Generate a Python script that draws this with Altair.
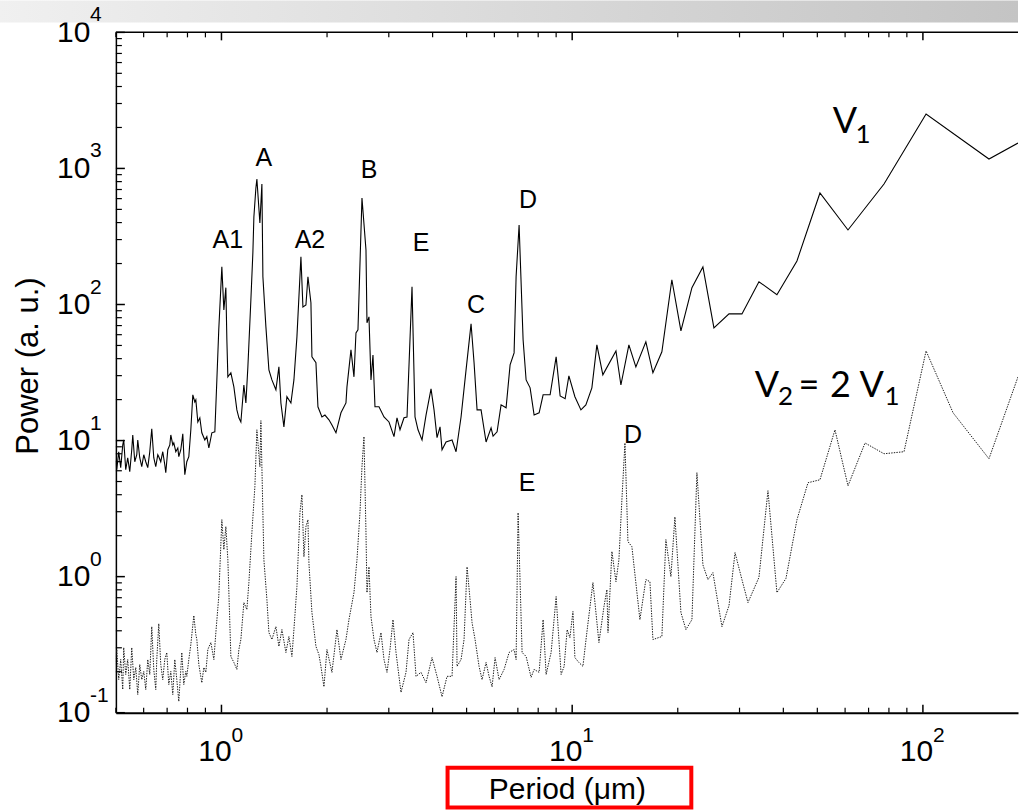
import altair as alt
import pandas as pd

# ---------------- data ----------------
v1_period = [
    0.4963, 0.5029, 0.5094, 0.5161, 0.5230, 0.5264, 0.5334, 0.5404, 0.5477, 0.5549,
    0.5586, 0.5660, 0.5735, 0.5772, 0.5848, 0.5926, 0.6004, 0.6084, 0.6164, 0.6246,
    0.6328, 0.6412, 0.6497, 0.6583, 0.6626, 0.6713, 0.6802, 0.6892, 0.6938, 0.7030,
    0.7124, 0.7171, 0.7265, 0.7313, 0.7410, 0.7508, 0.7557, 0.7657, 0.7758, 0.7861,
    0.7965, 0.8071, 0.8178, 0.8286, 0.8395, 0.8451, 0.8563, 0.8676, 0.8790, 0.8966,
    0.9084, 0.9205, 0.9388, 0.9575, 0.9702, 0.9824, 1.0025, 1.0158, 1.0293, 1.0361,
    1.0429, 1.0637, 1.0849, 1.1065, 1.1211, 1.1359, 1.1585, 1.1739, 1.1894, 1.2130,
    1.2290, 1.2372, 1.2536, 1.2618, 1.2870, 1.3040, 1.3126, 1.3388, 1.3654, 1.3926,
    1.4297, 1.4581, 1.4774, 1.5068, 1.5368, 1.5777, 1.6091, 1.6412, 1.6849, 1.7071,
    1.7412, 1.7642, 1.7992, 1.8111, 1.8594, 1.8839, 1.9341, 1.9726, 2.0252, 2.0655,
    2.1206, 2.1912, 2.2645, 2.2795, 2.3401, 2.3867, 2.4184, 2.4503, 2.5155, 2.5826,
    2.5996, 2.6339, 2.6687, 2.7040, 2.7398, 2.8128, 2.9068, 3.0038, 3.1041, 3.1660,
    3.2290, 3.3150, 3.3810, 3.4939, 3.5634, 3.6343, 3.7311, 3.8306, 3.9584, 4.0373,
    4.1178, 4.1996, 4.2551, 4.3686, 4.5441, 4.6653, 4.8208, 4.9821, 5.1482, 5.2508,
    5.3555, 5.4978, 5.6818, 5.8712, 5.9488, 6.1076, 6.2699, 6.4797, 6.6521, 6.8292,
    6.9198, 7.0573, 7.2450, 7.3897, 7.5862, 7.7882, 8.0484, 8.2625, 8.6517, 8.9998,
    9.2392, 9.5476, 9.786, 10.18, 10.59, 10.94, 11.38, 11.76, 12.23, 13.33,
    13.77, 14.51, 15.19, 16.22, 16.99, 18.02, 19.24, 20.42, 21.95, 23.59,
    25.36, 28.00, 30.48, 34.08, 38.35, 43.74, 50.87, 61.15, 77.46, 102.1,
    154.3, 186.7,
]
v1_power = [
    7.23, 6.10, 8.28, 6.32, 9.28, 10.1, 6.10, 7.48, 5.90, 8.56,
    11.0, 6.99, 7.87, 10.1, 7.48, 6.42, 7.87, 6.99, 6.32, 8.28,
    12.2, 7.48, 6.42, 7.87, 7.61, 6.99, 8.28, 6.64, 5.80, 8.56,
    9.28, 11.0, 9.28, 9.60, 8.28, 8.82, 7.61, 8.56, 11.2, 5.61,
    6.99, 7.61, 12.0, 21.7, 19.2, 19.9, 13.7, 14.7, 11.4, 10.1,
    10.7, 8.82, 11.4, 11.6, 27.9, 65.1, 189, 91.3, 133, 55.0,
    29.4, 31.5, 24.8, 16.8, 14.7, 13.7, 25.6, 18.9, 34.8, 108,
    240, 440, 718, 837, 397, 768, 160, 68.5, 33.1, 27.9,
    23.6, 34.8, 18.9, 12.6, 21.0, 18.9, 27.9, 57.8, 224, 96.0,
    99.3, 160, 103, 41.2, 37.3, 17.7, 14.9, 15.4, 14.2, 13.0,
    11.4, 16.0, 18.9, 24.8, 46.4, 29.4, 61.9, 65.1, 606, 252,
    73.3, 81.1, 27.9, 42.6, 17.7, 17.7, 14.9, 13.7, 10.7, 14.7,
    12.0, 14.7, 14.9, 135, 14.9, 12.0, 10.1, 15.4, 24.0, 16.8,
    10.5, 12.6, 8.56, 9.76, 10.1, 8.28, 14.9, 33.1, 72.1, 37.3,
    16.8, 16.8, 9.76, 12.4, 10.8, 11.6, 18.3, 17.4, 36.0, 44.1,
    160, 384, 55.0, 27.9, 24.4, 15.4, 16.0, 21.7, 21.7, 41.2,
    21.3, 20.3, 29.9, 21.0, 16.8, 18.3, 24.4, 50.5, 30.4, 45.6,
    25.6, 50.5, 34.8, 53.2, 31.5, 44.9, 152, 64.0, 133, 189,
    67.4, 85.3, 85.3, 147, 118, 209, 660, 353, 768, 2509,
    1173, 1537,
]

v2_period = [
    0.4963, 0.5029, 0.5094, 0.5161, 0.5230, 0.5264, 0.5334, 0.5404, 0.5477, 0.5549,
    0.5623, 0.5697, 0.5772, 0.5848, 0.5926, 0.6004, 0.6084, 0.6164, 0.6246, 0.6328,
    0.6412, 0.6497, 0.6540, 0.6626, 0.6713, 0.6802, 0.6892, 0.6984, 0.7077, 0.7171,
    0.7265, 0.7361, 0.7459, 0.7557, 0.7657, 0.7707, 0.7809, 0.7913, 0.7965, 0.8071,
    0.8178, 0.8340, 0.8451, 0.8507, 0.8619, 0.8790, 0.8907, 0.9025, 0.9144, 0.9327,
    0.9513, 0.9639, 0.9824, 1.0025, 1.0158, 1.0293, 1.0429, 1.0637, 1.0849, 1.1065,
    1.1211, 1.1359, 1.1585, 1.1816, 1.1972, 1.2210, 1.2453, 1.2618, 1.2870, 1.2955,
    1.3213, 1.3476, 1.3654, 1.3926, 1.4297, 1.4581, 1.4871, 1.5268, 1.5571, 1.5881,
    1.6091, 1.6412, 1.6739, 1.6960, 1.7184, 1.7412, 1.7642, 1.7758, 1.8111, 1.8594,
    1.8964, 1.9214, 1.9597, 1.9988, 2.0655, 2.1346, 2.1912, 2.2645, 2.3096, 2.3867,
    2.4343, 2.4827, 2.5155, 2.5488, 2.5826, 2.5996, 2.6339, 2.6687, 2.7218, 2.7761,
    2.8499, 2.9068, 2.9647, 3.0236, 3.0837, 3.1453, 3.2501, 3.3589, 3.4257, 3.5168,
    3.5871, 3.7066, 3.8306, 3.9845, 4.1178, 4.2551, 4.3974, 4.5441, 4.6653, 4.6960,
    4.8208, 4.9169, 5.0149, 5.1146, 5.1822, 5.2854, 5.4262, 5.5342, 5.6818, 5.7947,
    5.9100, 6.0277, 6.1882, 6.3949, 6.6085, 6.8292, 6.9198, 7.0110, 7.1977, 7.3897,
    7.6360, 7.7882, 8.0484, 8.2625, 8.4275, 8.7085, 8.9998, 9.2998, 9.4852, 9.6742,
    9.851, 10.05, 10.18, 10.45, 10.73, 11.01, 11.46, 11.92, 12.32, 12.56,
    12.65, 12.98, 13.33, 13.59, 13.86, 14.14, 14.42, 14.80, 15.60, 16.22,
    16.66, 16.99, 18.02, 18.50, 19.12, 19.63, 20.42, 21.10, 21.95, 22.68,
    23.59, 24.38, 25.19, 26.73, 28.00, 29.13, 30.48, 31.71, 34.08, 36.16,
    38.35, 40.70, 43.74, 47.03, 50.87, 56.14, 61.15, 68.39, 77.46, 88.33,
    102.1, 121.9, 154.3, 186.7,
]
v2_power = [
    0.226, 0.291, 0.175, 0.246, 0.148, 0.301, 0.191, 0.246, 0.148, 0.301,
    0.175, 0.215, 0.136, 0.226, 0.175, 0.201, 0.148, 0.246, 0.191, 0.429,
    0.208, 0.148, 0.246, 0.451, 0.226, 0.175, 0.246, 0.277, 0.161, 0.201,
    0.136, 0.246, 0.175, 0.121, 0.208, 0.277, 0.161, 0.201, 0.185, 0.246,
    0.317, 0.518, 0.375, 0.345, 0.226, 0.166, 0.215, 0.198, 0.291, 0.328,
    0.246, 0.388, 0.713, 2.62, 1.58, 2.33, 1.33, 0.259, 0.234, 0.208,
    0.291, 0.345, 0.645, 0.573, 0.904, 2.10, 4.58, 12.0, 6.42, 14.0,
    1.33, 0.678, 0.388, 0.345, 0.429, 0.307, 0.408, 0.277, 0.363, 0.259,
    0.408, 0.845, 2.95, 4.00, 1.40, 2.33, 2.62, 1.26, 0.545, 0.307,
    0.267, 0.219, 0.155, 0.291, 0.198, 0.408, 0.246, 0.345, 0.483, 0.763,
    1.33, 2.95, 6.42, 10.7, 2.10, 0.763, 1.18, 0.509, 0.345, 0.277,
    0.388, 0.246, 0.198, 0.291, 0.483, 0.277, 0.141, 0.198, 0.345, 0.388,
    0.185, 0.198, 0.166, 0.254, 0.185, 0.131, 0.185, 0.185, 1.00, 0.219,
    0.246, 0.345, 1.18, 0.678, 0.459, 0.345, 0.219, 0.175, 0.234, 0.185,
    0.155, 0.254, 0.175, 0.208, 0.277, 0.291, 0.246, 2.95, 0.277, 0.259,
    0.182, 0.208, 0.198, 0.483, 0.191, 0.277, 0.713, 0.191, 0.219, 0.408,
    0.356, 0.554, 0.254, 0.234, 0.219, 0.388, 0.904, 0.328, 0.602, 0.803,
    0.388, 1.53, 0.919, 1.33, 3.68, 9.60, 1.81, 1.66, 0.483, 0.951,
    0.919, 0.345, 0.363, 1.87, 1.00, 2.75, 0.545, 0.408, 0.483, 5.80,
    1.22, 0.951, 1.07, 0.429, 0.613, 1.50, 0.951, 0.645, 0.987, 4.28,
    0.763, 0.971, 2.62, 4.90, 5.15, 12.0, 4.65, 9.60, 8.00, 8.28,
    45.6, 16.0, 7.35, 29.4,
]

# peak labels
peak_labels = ["A1", "A", "A2", "B", "E", "C", "D", "D", "E"]
peak_period = [1.043, 1.321, 1.788, 2.634, 3.707, 5.320, 7.487, 14.90, 7.438]
peak_power = [298, 1193, 298, 974, 283, 99.3, 586, 11.0, 4.90]

# series labels  (V1 ; V2 = 2 V1), main glyphs and subscripts
ser_main_text = ["V", "V", "=", "2", "V"]
ser_main_period = [59.96, 35.92, 47.33, 58.21, 71.38]
ser_main_power = [2192, 25.2, 25.2, 25.2, 25.2]
ser_sub_text = ["1", "2", "1"]
ser_sub_period = [67.50, 40.56, 81.62]
ser_sub_power = [1759, 20.8, 20.8]

# axis ticks
x_major = [1, 10, 100]
x_minor = [0.5, 0.6, 0.7, 0.8, 0.9, 2, 3, 4, 5, 6, 7, 8, 9,
           20, 30, 40, 50, 60, 70, 80, 90]
x_exp = ["0", "1", "2"]
y_major = [0.1, 1, 10, 100, 1000, 10000]
y_minor = [0.2, 0.3, 0.4, 0.5, 0.6, 0.7, 0.8, 0.9,
           2, 3, 4, 5, 6, 7, 8, 9,
           20, 30, 40, 50, 60, 70, 80, 90,
           200, 300, 400, 500, 600, 700, 800, 900,
           2000, 3000, 4000, 5000, 6000, 7000, 8000, 9000]
y_exp = ["-1", "0", "1", "2", "3", "4"]

# ---------------- chart ----------------
W, H = 903, 681
FONT = "Liberation Sans"

xs = alt.Scale(type="log", domain=[0.5, 186.7], nice=False)
ys = alt.Scale(type="log", domain=[0.1, 10000], nice=False)

xaxis = alt.Axis(values=x_major, labelExpr="'10'", ticks=False, grid=False,
                 domainColor="black", domainWidth=2, labelFont=FONT,
                 labelFontSize=30, labelColor="black", labelPadding=24,
                 labelOffset=-7, labelFlush=False, labelOverlap=False, title=None)
yaxis = alt.Axis(values=y_major, labelExpr="'10'", ticks=False, grid=False,
                 domainColor="black", domainWidth=1.5, labelFont=FONT,
                 labelFontSize=30, labelColor="black", labelPadding=26,
                 labelFlush=False, labelOverlap=False, title=None)


def X():
    return alt.X("period:Q", scale=xs, axis=xaxis)


def Y():
    return alt.Y("power:Q", scale=ys, axis=yaxis)


df1 = pd.DataFrame({"period": v1_period, "power": v1_power})
df2 = pd.DataFrame({"period": v2_period, "power": v2_power})
dfp = pd.DataFrame({"period": peak_period, "power": peak_power, "label": peak_labels})
dfm = pd.DataFrame({"period": ser_main_period, "power": ser_main_power, "label": ser_main_text})
dfs = pd.DataFrame({"period": ser_sub_period, "power": ser_sub_power, "label": ser_sub_text})
dfxM = pd.DataFrame({"period": x_major, "label": x_exp})
dfxm = pd.DataFrame({"period": x_minor})
dfyM = pd.DataFrame({"power": y_major, "label": y_exp})
dfym = pd.DataFrame({"power": y_minor})
one = pd.DataFrame({"k": [0]})

line1 = alt.Chart(df1).mark_line(color="black", strokeWidth=1.1, clip=True).encode(x=X(), y=Y())
line2 = alt.Chart(df2).mark_line(color="#1a1a1a", strokeWidth=1, strokeDash=[1.4, 1.2],
                                  clip=True).encode(x=X(), y=Y())

peaks = alt.Chart(dfp).mark_text(font=FONT, fontSize=25, color="black").encode(
    x=X(), y=Y(), text="label:N")
ser_main = alt.Chart(dfm).mark_text(font="Lato", fontSize=36, color="black").encode(
    x=X(), y=Y(), text="label:N")
ser_sub = alt.Chart(dfs).mark_text(font="Lato", fontSize=26, color="black").encode(
    x=X(), y=Y(), text="label:N")

# inward ticks
xt_bot_min = alt.Chart(dfxm).mark_rule(color="black", strokeWidth=1.2).encode(
    x=X(), y=alt.value(H), y2=alt.value(H - 5))
xt_bot_maj = alt.Chart(dfxM).mark_rule(color="black", strokeWidth=1.5).encode(
    x=X(), y=alt.value(H), y2=alt.value(H - 8))
xt_top_min = alt.Chart(dfxm).mark_rule(color="black", strokeWidth=1.2).encode(
    x=X(), y=alt.value(0), y2=alt.value(5))
xt_top_maj = alt.Chart(dfxM).mark_rule(color="black", strokeWidth=1.5).encode(
    x=X(), y=alt.value(0), y2=alt.value(8))
yt_min = alt.Chart(dfym).mark_rule(color="black", strokeWidth=1.2).encode(
    y=Y(), x=alt.value(0), x2=alt.value(6))
yt_maj = alt.Chart(dfyM).mark_rule(color="black", strokeWidth=1.5).encode(
    y=Y(), x=alt.value(0), x2=alt.value(9))
top_border = alt.Chart(one).mark_rule(color="black", strokeWidth=1.5).encode(
    x=alt.value(0), x2=alt.value(W), y=alt.value(0))

# exponents of the tick labels
x_exp_txt = alt.Chart(dfxM).mark_text(font=FONT, fontSize=21, color="black", align="left",
                                      baseline="alphabetic", dx=10).encode(
    x=X(), y=alt.value(H + 29), text="label:N")
y_exp_txt = alt.Chart(dfyM).mark_text(font=FONT, fontSize=21, color="black", align="left",
                                      baseline="middle", dy=-17).encode(
    y=Y(), x=alt.value(-26), text="label:N")

# titles
x_title = alt.Chart(one).mark_text(font=FONT, fontSize=30, color="black",
                                   baseline="middle", text="Period (μm)").encode(
    x=alt.value(452), y=alt.value(H + 77))
y_title = alt.Chart(one).mark_text(font=FONT, fontSize=31, color="black", angle=270,
                                   baseline="middle", text="Power (a. u.)").encode(
    x=alt.value(-87), y=alt.value(334))

# decorations: grey gradient bar and red frame around the x title
bar = alt.Chart(one).mark_rect(
    fill=alt.Gradient(gradient="linear",
                      stops=[alt.GradientStop(color="#f0f0f0", offset=0),
                             alt.GradientStop(color="#c4c4c4", offset=1)],
                      x1=0, x2=1, y1=0, y2=0)).encode(
    x=alt.value(-116), x2=alt.value(W), y=alt.value(-32), y2=alt.value(-10))
red_box = alt.Chart(one).mark_rect(fillOpacity=0, stroke="#ff0000", strokeWidth=4).encode(
    x=alt.value(332), x2=alt.value(576), y=alt.value(H + 55), y2=alt.value(H + 95))

chart = alt.layer(
    bar, line2, line1, peaks, ser_main, ser_sub,
    xt_bot_min, xt_bot_maj, xt_top_min, xt_top_maj, yt_min, yt_maj, top_border,
    x_exp_txt, y_exp_txt, x_title, y_title, red_box,
).properties(width=W, height=H, padding=0, background="white").configure_view(stroke=None)

chart.save("out.html", embed_options={"renderer": "svg", "actions": False})
